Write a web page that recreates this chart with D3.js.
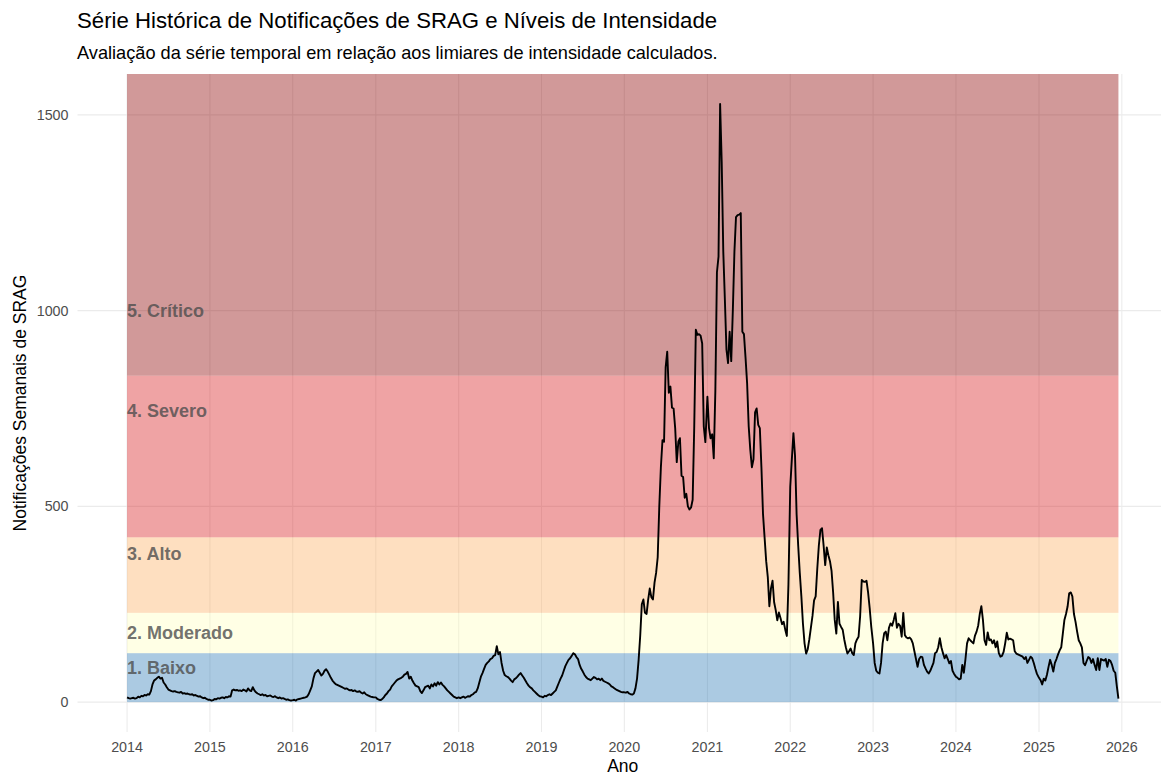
<!DOCTYPE html>
<html><head><meta charset="utf-8">
<script src="https://cdn.jsdelivr.net/npm/d3@7"></script>
<style>
body{margin:0;background:#fff}
svg{display:block;font-family:"Liberation Sans",Arial,Helvetica,sans-serif}
</style>
</head><body>
<svg id="chart" width="1161" height="776"></svg>
<script>
// ---------- DATA ----------
const years = [2014,2015,2016,2017,2018,2019,2020,2021,2022,2023,2024,2025];
const v2014 = [12,10,9,10,11,9,10,14,12,16,15,18,17,20,19,28,45,55,58,62,65,60,62,50,45,38,32,30,28,27,28,26,25,24,26,22,23,21,22,20,19,20,17,18,16,14,15,12,10,11,8,6];
const v2015 = [6,4,5,8,7,10,9,11,12,10,13,12,15,14,30,32,30,31,29,30,28,32,30,27,35,30,28,38,30,25,22,20,18,20,17,18,15,16,17,14,13,15,12,10,12,9,10,8,6,7,5,4];
const v2016 = [5,6,4,7,8,9,10,11,12,14,20,30,40,60,74,78,82,75,68,72,80,84,78,70,62,55,50,46,44,42,40,38,36,34,35,32,30,31,28,30,27,26,28,24,22,25,20,18,16,14,13,12];
const v2017 = [12,8,6,5,8,12,18,22,28,32,40,45,50,55,58,60,62,65,70,72,77,60,65,55,48,42,40,38,28,23,30,38,40,42,35,45,40,48,42,51,45,50,44,40,35,30,26,22,18,14,12,10];
const v2018 = [12,10,12,14,11,13,15,14,18,20,24,26,35,50,65,74,85,95,100,104,110,112,118,120,143,122,128,100,80,69,66,64,60,55,51,58,61,65,70,74,68,62,55,48,42,38,35,30,26,22,18,15];
const v2019 = [14,12,16,15,18,20,18,22,26,30,40,50,60,68,80,92,100,108,112,118,125,122,115,110,95,85,78,70,64,60,58,56,60,64,62,58,60,56,60,54,52,50,48,45,40,38,35,32,30,28,26,25];
const v2020 = [25,24,26,22,20,19,22,35,60,108,170,250,262,228,225,262,290,268,262,305,330,370,500,600,669,665,855,895,790,806,752,750,700,613,665,674,578,575,522,532,500,492,497,517,704,951,938,940,936,916,704,664];
const v2021 = [780,700,674,684,623,795,1098,1138,1528,1380,1150,1027,900,866,946,871,1000,1150,1239,1244,1245,1249,946,940,880,814,704,644,600,620,740,750,708,700,600,480,420,360,320,245,290,310,255,235,209,229,215,199,205,185,169,300];
const v2022 = [550,620,687,630,480,400,330,270,200,150,124,135,160,190,220,260,270,340,400,440,444,400,350,395,375,360,335,280,210,175,256,200,192,185,160,140,124,130,137,125,120,150,160,167,220,312,308,307,310,280,240,192];
const v2023 = [150,100,80,75,73,100,150,176,180,158,190,201,195,210,227,190,200,195,167,228,171,165,163,165,160,150,130,110,90,110,116,115,95,86,78,73,80,90,100,125,128,140,163,140,125,112,120,110,99,105,80,72];
const v2024 = [65,62,58,60,95,75,110,150,163,158,154,150,170,180,195,225,245,210,158,146,178,158,160,150,158,140,155,125,116,118,128,150,177,160,162,160,158,130,124,122,120,118,116,110,115,100,108,116,112,100,85,72];
const v2025 = [62,56,45,60,55,70,90,108,95,78,100,110,122,132,140,175,210,225,244,278,280,270,225,205,180,158,150,140,100,94,105,115,112,100,110,95,82,112,82,110,108,106,110,90,108,105,95,80,75,40,9];
const weeklyByYear = [v2014,v2015,v2016,v2017,v2018,v2019,v2020,v2021,v2022,v2023,v2024,v2025];

const levelNames  = ["1. Baixo","2. Moderado","3. Alto","4. Severo","5. Crítico"];
const levelLower  = [0,125,228,421,834];
const levelUpper  = [125,228,421,834,Infinity];
const levelColors = ["#2C7BB6","#FFFFBF","#FDAE61","#D7191C","#8B0000"];
const labelValues = [87,176,378,745,1000];

const xTickYears = [2014,2015,2016,2017,2018,2019,2020,2021,2022,2023,2024,2025,2026];
const yTicks = [0,500,1000,1500];

const titleText = "Série Histórica de Notificações de SRAG e Níveis de Intensidade";
const subtitleText = "Avaliação da série temporal em relação aos limiares de intensidade calculados.";
const xTitle = "Ano";
const yTitle = "Notificações Semanais de SRAG";

// ---------- BUILD ----------
const data = [];
years.forEach((yr, k) => {
  weeklyByYear[k].forEach((v, i) => data.push({date: new Date(yr, 0, 1 + 7 * i), value: v}));
});

const svg = d3.select("#chart");
const panel = {left: 77.5, right: 1168, top: 74, bottom: 732};

const ext = d3.extent(data, d => d.date);
const span = ext[1] - ext[0];
const x = d3.scaleTime()
  .domain([new Date(+ext[0] - 0.05 * span), new Date(+ext[1] + 0.05 * span)])
  .range([panel.left, panel.right]);

const ymax = d3.max(data, d => d.value);
const y = d3.scaleLinear()
  .domain([-0.05 * ymax, 1.05 * ymax])
  .range([panel.bottom, panel.top]);

// grid
const grid = svg.append("g");
grid.selectAll("line.h").data(yTicks).join("line")
  .attr("x1", panel.left).attr("x2", panel.right)
  .attr("y1", d => y(d)).attr("y2", d => y(d))
  .attr("stroke", "#EBEBEB").attr("stroke-width", 1.07);
grid.selectAll("line.v").data(xTickYears).join("line")
  .attr("x1", d => x(new Date(d, 0, 1))).attr("x2", d => x(new Date(d, 0, 1)))
  .attr("y1", panel.top).attr("y2", panel.bottom)
  .attr("stroke", "#EBEBEB").attr("stroke-width", 1.07);

// bands
const yTop = y.domain()[1];
svg.append("g").selectAll("rect").data(levelNames).join("rect")
  .attr("x", x(ext[0]))
  .attr("width", x(ext[1]) - x(ext[0]))
  .attr("y", (d, i) => y(Math.min(levelUpper[i], yTop)))
  .attr("height", (d, i) => y(levelLower[i]) - y(Math.min(levelUpper[i], yTop)))
  .attr("fill", (d, i) => levelColors[i])
  .attr("fill-opacity", 0.4);

// line
svg.append("path").datum(data)
  .attr("d", d3.line().x(d => x(d.date)).y(d => y(d.value)))
  .attr("fill", "none").attr("stroke", "#000").attr("stroke-width", 1.9)
  .attr("stroke-linejoin", "round");

// level labels
svg.append("g").selectAll("text").data(levelNames).join("text")
  .attr("x", x(ext[0]))
  .attr("y", (d, i) => y(labelValues[i]))
  .attr("dy", "0.35em")
  .attr("font-size", 18).attr("font-weight", "bold")
  .attr("fill", "#4D4D4D").attr("fill-opacity", 0.8)
  .text(d => d);

// axis tick labels
svg.append("g").selectAll("text").data(yTicks).join("text")
  .attr("x", panel.left - 9).attr("y", d => y(d)).attr("dy", "0.35em")
  .attr("text-anchor", "end").attr("font-size", 14.3).attr("fill", "#4D4D4D")
  .text(d => d);
svg.append("g").selectAll("text").data(xTickYears).join("text")
  .attr("x", d => x(new Date(d, 0, 1))).attr("y", 752)
  .attr("text-anchor", "middle").attr("font-size", 14.3).attr("fill", "#4D4D4D")
  .text(d => d);

// axis titles
svg.append("text").attr("x", (panel.left + panel.right) / 2).attr("y", 772)
  .attr("text-anchor", "middle").attr("font-size", 17.5).attr("fill", "#000").text(xTitle);
svg.append("text").attr("transform", `translate(26,${(panel.top + panel.bottom) / 2}) rotate(-90)`)
  .attr("text-anchor", "middle").attr("font-size", 17.5).attr("fill", "#000").text(yTitle);

// titles
svg.append("text").attr("x", 77).attr("y", 28).attr("font-size", 22.2).attr("fill", "#000").text(titleText);
svg.append("text").attr("x", 77).attr("y", 59).attr("font-size", 18.2).attr("fill", "#000").text(subtitleText);
</script>
</body></html>
